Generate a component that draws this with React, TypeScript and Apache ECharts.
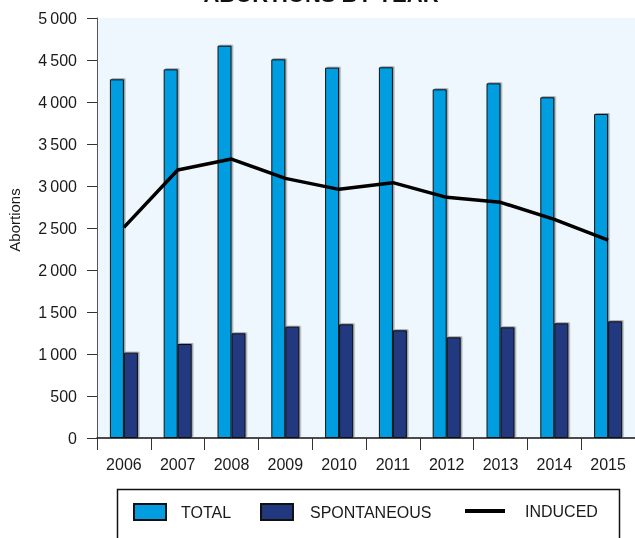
import React, { useEffect, useRef } from "react";
import * as echarts from "echarts";

const years = ["2006", "2007", "2008", "2009", "2010", "2011", "2012", "2013", "2014", "2015"];
const totalValues = [4270, 4389, 4670, 4508, 4409, 4413, 4151, 4222, 4056, 3857];
const spontaneousValues = [1016, 1119, 1246, 1325, 1353, 1282, 1198, 1317, 1365, 1389];
const inducedValues = [2508, 3190, 3321, 3091, 2960, 3040, 2865, 2806, 2603, 2357];
const seriesNames = ["TOTAL", "SPONTANEOUS", "INDUCED"];

const FONT = "'Liberation Sans', Arial, Helvetica, sans-serif";

export default function App() {
  const ref = useRef<HTMLDivElement>(null);
  useEffect(() => {
    if (!ref.current) return;
    const chart = echarts.init(ref.current, null, { renderer: "svg" });
    const barShadow = {
      shadowColor: "rgba(0,0,0,0.35)",
      shadowBlur: 0,
      shadowOffsetX: 1.5,
      shadowOffsetY: -1,
    };
    const legendBase = {
      orient: "horizontal" as const,
      top: 503,
      padding: 0,
      itemHeight: 16,
      textStyle: { fontFamily: FONT, fontSize: 16, color: "#1a1a1a" },
      selectedMode: false,
    };
    chart.setOption({
      animation: false,
      textStyle: { fontFamily: FONT },
      grid: { left: 97, top: 18, width: 540, bottom: 100, show: true, backgroundColor: "#eef7fd", borderWidth: 0 },
      xAxis: {
        type: "category",
        data: years,
        boundaryGap: true,
        axisLine: { show: true, lineStyle: { color: "#111", width: 1.5 } },
        axisTick: { show: true, length: 12, lineStyle: { color: "#333", width: 1 } },
        axisLabel: { fontFamily: FONT, fontSize: 16, color: "#1a1a1a", margin: 18 },
      },
      yAxis: {
        type: "value",
        min: 0,
        max: 5000,
        interval: 500,
        axisLine: { show: true, lineStyle: { color: "#555", width: 1 } },
        axisTick: { show: true, length: 10, lineStyle: { color: "#333", width: 1 } },
        axisLabel: {
          fontFamily: FONT,
          fontSize: 16,
          color: "#1a1a1a",
          margin: 20,
          formatter: (v: number) => (v >= 1000 ? `${Math.floor(v / 1000)}\u2009${String(v % 1000).padStart(3, "0")}` : String(v)),
        },
        splitLine: {
          show: true,
          lineStyle: { color: "#262626", width: 1, shadowColor: "rgba(0,0,0,0.3)", shadowOffsetY: 1, shadowBlur: 0 },
        },
      },
      legend: [
        { ...legendBase, left: 133, itemWidth: 32, itemGap: 0, data: [{ name: seriesNames[0], icon: "rect" }], textStyle: { ...legendBase.textStyle, padding: [0, 0, 0, 10] } },
        { ...legendBase, left: 260, itemWidth: 32, itemGap: 0, data: [{ name: seriesNames[1], icon: "rect" }], textStyle: { ...legendBase.textStyle, padding: [0, 0, 0, 12] } },
        {
          ...legendBase,
          left: 465,
          itemWidth: 40,
          itemHeight: 4,
          itemGap: 0,
          data: [{ name: seriesNames[2], icon: "rect", itemStyle: { color: "#000", borderWidth: 0 } }],
          textStyle: { ...legendBase.textStyle, padding: [0, 0, 0, 15] },
        },
      ],
      graphic: [
        {
          type: "rect",
          z: -1,
          shape: { x: 117.5, y: 489.5, width: 502, height: 70 },
          style: { fill: "#ffffff", stroke: "#111", lineWidth: 1.5 },
        },
        {
          type: "text",
          x: 14,
          y: 220,
          rotation: Math.PI / 2,
          style: { text: "Abortions", fontFamily: FONT, fontSize: 15, fill: "#1a1a1a", align: "center", verticalAlign: "middle" },
        },
        {
          type: "text",
          x: 321,
          y: 5,
          style: { text: "ABORTIONS BY YEAR", fontFamily: FONT, fontSize: 22, fontWeight: "bold", fill: "#111", align: "center", verticalAlign: "bottom" },
        },
      ],
      series: [
        {
          name: seriesNames[0],
          type: "bar",
          data: totalValues,
          barWidth: 14,
          barGap: "0%",
          itemStyle: { color: "#009ee0", borderColor: "#111", borderWidth: 1, ...barShadow },
        },
        {
          name: seriesNames[1],
          type: "bar",
          data: spontaneousValues,
          barWidth: 14,
          barGap: "0%",
          itemStyle: { color: "#21387f", borderColor: "#111", borderWidth: 1, ...barShadow },
        },
        {
          name: seriesNames[2],
          type: "line",
          data: inducedValues,
          symbol: "none",
          z: 5,
          lineStyle: { color: "#000", width: 3.5 },
          itemStyle: { color: "#000" },
        },
      ],
    });
    return () => chart.dispose();
  }, []);
  return <div ref={ref} style={{ position: "fixed", left: 0, top: 0, width: 635, height: 538 }} />;
}
